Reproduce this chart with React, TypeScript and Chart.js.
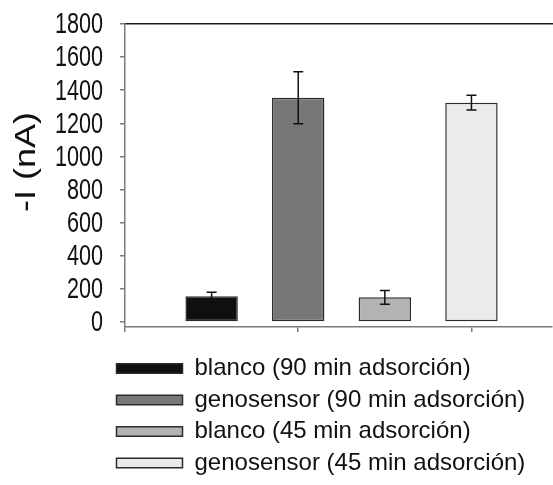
import React, { useEffect, useRef } from 'react';
import { Chart, registerables } from 'chart.js';

Chart.register(...registerables);

const seriesLabels = [
  'blanco (90 min adsorción)',
  'genosensor (90 min adsorción)',
  'blanco (45 min adsorción)',
  'genosensor (45 min adsorción)',
];
const positions = [1, 2, 3, 4];
const values = [155, 1355, 149, 1325];
const errors = [25, 157, 42, 44];
const fills = ['#0f0f0f', '#777777', '#b3b3b3', '#ebebeb'];
const yTicks = [0, 200, 400, 600, 800, 1000, 1200, 1400, 1600, 1800];
const xTicks = [0, 2, 4];
const yTitle = '-I (nA)';

const FONT = '"Liberation Sans", Arial, Helvetica, sans-serif';
const AXIS_GREY = '#7a7a7a';

const customPlugin = {
  id: 'customDraw',
  afterDatasetsDraw(chart: any) {
    const { ctx, scales } = chart;
    const x = scales.x;
    const y = scales.y;
    ctx.save();
    ctx.strokeStyle = '#111';
    ctx.lineWidth = 1.5;
    values.forEach((v, i) => {
      const px = x.getPixelForValue(positions[i]);
      const top = y.getPixelForValue(v + errors[i]);
      const bot = y.getPixelForValue(v - errors[i]);
      ctx.beginPath();
      ctx.moveTo(px, top);
      ctx.lineTo(px, bot);
      ctx.moveTo(px - 5, top);
      ctx.lineTo(px + 5, top);
      ctx.moveTo(px - 5, bot);
      ctx.lineTo(px + 5, bot);
      ctx.stroke();
    });
    ctx.restore();
  },
  afterDraw(chart: any) {
    const { ctx, scales, chartArea } = chart;
    const y = scales.y;
    ctx.save();
    ctx.fillStyle = '#111';
    ctx.font = `21.6px ${FONT}`;
    ctx.textAlign = 'right';
    ctx.textBaseline = 'middle';
    y.ticks.forEach((t: any) => {
      const py = y.getPixelForValue(t.value);
      ctx.save();
      ctx.translate(chartArea.left - 22, py + 1);
      ctx.scale(1, 1.39);
      ctx.fillText(String(t.value), 0, 0);
      ctx.restore();
    });
    // axis title
    ctx.save();
    ctx.translate(27, chartArea.top + 138);
    ctx.rotate(-Math.PI / 2);
    ctx.scale(1.2, 1);
    ctx.font = `30px ${FONT}`;
    ctx.textAlign = 'center';
    ctx.textBaseline = 'middle';
    ctx.fillText(yTitle, 0, 0);
    ctx.restore();
    ctx.restore();
  },
};

export default function App() {
  const canvasRef = useRef<HTMLCanvasElement | null>(null);

  useEffect(() => {
    if (!canvasRef.current) return;
    const chart = new Chart(canvasRef.current, {
      type: 'bar',
      data: {
        datasets: seriesLabels.map((label, i) => ({
          label,
          data: [{ x: positions[i], y: values[i] }],
          backgroundColor: fills[i],
          borderColor: '#2b2b2b',
          borderWidth: 1.5,
          borderSkipped: false,
          grouped: false,
          categoryPercentage: 1,
          barPercentage: 0.605,
        })),
      },
      options: {
        responsive: false,
        animation: false,
        layout: { padding: { top: 24, bottom: 0, left: 109, right: 1 } },
        scales: {
          x: {
            type: 'linear',
            position: 'bottom',
            offset: false,
            min: 0,
            max: 4.93,
            afterBuildTicks: (s: any) => {
              s.ticks = xTicks.map((v) => ({ value: v }));
            },
            afterFit: (s: any) => {
              s.height = 22;
            },
            ticks: { display: false },
            grid: {
              offset: false,
              drawOnChartArea: false,
              drawTicks: true,
              tickLength: 5,
              color: AXIS_GREY,
              lineWidth: 1.5,
            },
            border: { display: true, color: AXIS_GREY, width: 1.5 },
          },
          x2: {
            type: 'linear',
            axis: 'x',
            position: 'top',
            offset: false,
            afterFit: (s: any) => {
              s.height = 0;
            },
            ticks: { display: false },
            grid: { display: false, offset: false },
            border: { display: true, color: '#1a1a1a', width: 1.5 },
          },
          y: {
            type: 'linear',
            min: -30,
            max: 1800,
            afterBuildTicks: (s: any) => {
              s.ticks = yTicks.map((v) => ({ value: v }));
            },
            afterFit: (s: any) => {
              s.width = 16;
            },
            ticks: { display: false },
            grid: {
              drawOnChartArea: false,
              drawTicks: true,
              tickLength: 5,
              color: AXIS_GREY,
              lineWidth: 1.5,
            },
            border: { display: true, color: AXIS_GREY, width: 1.5 },
          },
        },
        plugins: {
          tooltip: { enabled: false },
          legend: {
            position: 'bottom',
            align: 'start',
            labels: {
              boxWidth: 66,
              boxHeight: 9.5,
              padding: 7.5,
              color: '#111',
              font: { family: FONT, size: 24 },
            },
          },
        },
      } as any,
      plugins: [customPlugin],
    });
    return () => chart.destroy();
  }, []);

  return (
    <div style={{ position: 'absolute', left: 0, top: 0, width: 553, height: 485 }}>
      <canvas ref={canvasRef} width={553} height={485} style={{ display: 'block' }} />
    </div>
  );
}
